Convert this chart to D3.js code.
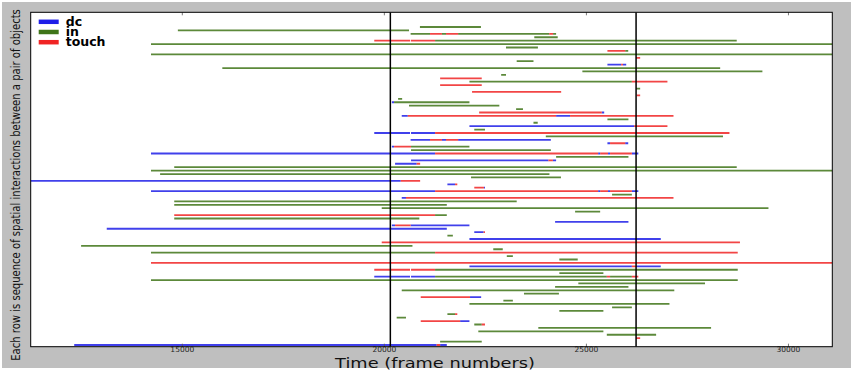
<!DOCTYPE html>
<html>
<head>
<meta charset="utf-8">
<script src="https://cdn.jsdelivr.net/npm/d3@7"></script>
<style>
  body { margin: 0; background: #fff; }
  text { font-family: "DejaVu Sans", sans-serif; }
</style>
</head>
<body>
<svg width="856" height="374"></svg>
<script>
// segments per interaction type: [row, start frame, end frame]
var dcSegs = [
  [82, 25520, 25860], [82, 25905, 25985],
  [71, 20185, 20240],
  [68, 25380, 25440],
  [67, 20430, 20580], [67, 24250, 24595],
  [64, 22105, 26180],
  [62, 19750, 20635], [62, 20660, 21255],
  [60, 20650, 21130], [60, 21425, 21525], [60, 21825, 24120],
  [59, 25520, 25585], [59, 25960, 26035],
  [58, 20185, 20240],
  [56, 14225, 21255], [56, 25290, 25340], [56, 25535, 25585], [56, 26125, 26285],
  [54, 20660, 24060], [54, 24170, 24250],
  [53, 20265, 20800],
  [48, 11248, 20405],
  [47, 21560, 21750],
  [46, 22465, 22490],
  [45, 14225, 21255], [45, 25290, 25340], [45, 25535, 25585], [45, 26125, 26285],
  [43, 20430, 20535],
  [36, 24225, 26040],
  [35, 20185, 20265], [35, 20650, 22105],
  [34, 13130, 21545],
  [33, 22225, 22455],
  [31, 22105, 26840],
  [23, 22105, 26125], [23, 26230, 26840],
  [20, 19750, 20635], [20, 20660, 21255],
  [14, 22120, 22395],
  [7, 21875, 22105],
  [0, 12325, 21295], [0, 21380, 21545]
];

var inSegs = [
  [93, 20880, 22390],
  [92, 14890, 20610],
  [91, 20650, 21130], [91, 21425, 21525], [91, 21825, 24080], [91, 24175, 24250],
  [90, 23710, 24290],
  [89, 21255, 28720],
  [88, 14225, 31085],
  [87, 23010, 23800],
  [86, 25960, 26035],
  [85, 14225, 31085],
  [83, 23275, 23690],
  [81, 15990, 28310],
  [80, 24900, 29355],
  [79, 22890, 23010],
  [77, 22105, 26125],
  [75, 26230, 26330],
  [72, 20340, 20440],
  [71, 20240, 22105],
  [70, 20610, 22845],
  [69, 23260, 23430],
  [66, 25520, 26040],
  [65, 23690, 23795],
  [63, 22225, 22490],
  [61, 23995, 28380],
  [58, 20660, 22105],
  [57, 20660, 24120],
  [55, 24250, 26040],
  [52, 14800, 28720],
  [51, 14225, 31085],
  [50, 14450, 24085],
  [49, 22145, 24370],
  [44, 25635, 26125],
  [42, 14800, 23275],
  [41, 14800, 21545],
  [40, 19935, 29505],
  [39, 24720, 25340],
  [38, 21255, 21545],
  [37, 14800, 20865],
  [32, 21560, 21695],
  [29, 12495, 20695],
  [28, 22695, 22930],
  [27, 14225, 21255],
  [26, 23030, 23180],
  [25, 24330, 24785],
  [22, 21255, 28745],
  [21, 24330, 25420],
  [20, 21255, 25505], [20, 25585, 26125],
  [19, 14225, 28745],
  [18, 24800, 27935],
  [17, 24225, 26040],
  [16, 20430, 27175],
  [15, 23455, 24320],
  [13, 22945, 23180],
  [12, 22105, 27055],
  [11, 25635, 26125],
  [10, 24330, 25420],
  [9, 21560, 21750],
  [8, 20305, 20535],
  [6, 22225, 22410],
  [5, 23810, 28085],
  [4, 22325, 25420],
  [3, 25505, 26725],
  [1, 21380, 22410]
];

var touchSegs = [
  [91, 21130, 21425], [91, 21525, 21825], [91, 24080, 24175],
  [89, 19750, 20635], [89, 20655, 21255],
  [86, 25520, 25960],
  [84, 26230, 26330],
  [82, 25860, 25905],
  [78, 21380, 22410],
  [77, 26125, 27005],
  [76, 21380, 22410],
  [74, 22170, 24375],
  [73, 26245, 26330],
  [68, 22345, 25380],
  [67, 20580, 24250], [67, 24595, 27155],
  [64, 26180, 27005],
  [62, 21255, 28540],
  [60, 21130, 21425], [60, 21525, 21825],
  [59, 25585, 25960],
  [58, 20240, 20660],
  [56, 21255, 25290], [56, 25340, 25535], [56, 25585, 26125],
  [54, 24060, 24170],
  [53, 20800, 20885],
  [48, 20405, 20885],
  [47, 21750, 21805],
  [46, 22225, 22465],
  [45, 21255, 25290], [45, 25340, 25535], [45, 25585, 26125],
  [43, 20535, 27155],
  [38, 14800, 21255],
  [35, 20265, 20650],
  [33, 22455, 22490],
  [30, 19935, 28800],
  [27, 21255, 28745],
  [24, 14225, 31085],
  [23, 26125, 26230],
  [22, 19750, 20635], [22, 20660, 21255],
  [20, 25505, 25585], [20, 26125, 26285],
  [14, 20900, 22120],
  [9, 21750, 21805],
  [7, 20900, 21875],
  [6, 22410, 22490],
  [2, 26230, 26330],
  [0, 21295, 21380]
];

var eventFrames = [20148, 26229];
var xTicks = [15000, 20000, 25000, 30000];
var kinds = ["dc", "in", "touch"];
var kindColors = ["#1e1ee8", "#3f7418", "#f02424"];

var svg = d3.select("svg"),
    margin = {top: 12.3, right: 23.7, bottom: 27.3, left: 30.7},
    width = 856 - margin.left - margin.right,
    height = 374 - margin.top - margin.bottom;

// gray figure background
svg.append("rect")
    .attr("x", 2).attr("y", 2)
    .attr("width", 849).attr("height", 366)
    .attr("fill", "#bfbfbf");

var g = svg.append("g").attr("transform", "translate(" + margin.left + "," + margin.top + ")");

var x = d3.scaleLinear().domain([11248, 31085]).range([0, width]);
var y = d3.scaleLinear().domain([-0.5, 97.3]).range([height, 0]);
var color = d3.scaleOrdinal().domain(kinds).range(kindColors);

g.append("rect")
    .attr("width", width).attr("height", height)
    .attr("fill", "#fff");

g.append("clipPath").attr("id", "plot-clip")
  .append("rect").attr("width", width).attr("height", height);

var plot = g.append("g").attr("clip-path", "url(#plot-clip)");

// one group of horizontal segments per type
[dcSegs, inSegs, touchSegs].forEach(function(segs, i) {
  plot.append("g")
      .attr("stroke", color(kinds[i]))
      .attr("stroke-width", 1.8)
      .attr("stroke-opacity", 0.85)
    .selectAll("line")
    .data(segs)
    .enter().append("line")
      .attr("x1", function(d) { return x(d[1]); })
      .attr("x2", function(d) { return x(d[2]); })
      .attr("y1", function(d) { return y(d[0]); })
      .attr("y2", function(d) { return y(d[0]); });
});

// event markers
plot.selectAll(".event")
  .data(eventFrames)
  .enter().append("line")
    .attr("class", "event")
    .attr("x1", function(d) { return x(d); })
    .attr("x2", function(d) { return x(d); })
    .attr("y1", 0).attr("y2", height)
    .attr("stroke", "#000")
    .attr("stroke-width", 1.5);

// ticks inside top and bottom
g.selectAll(".tick-top")
  .data(xTicks)
  .enter().append("line")
    .attr("x1", function(d) { return x(d); })
    .attr("x2", function(d) { return x(d); })
    .attr("y1", 0).attr("y2", 3)
    .attr("stroke", "#555").attr("stroke-width", 0.8);

g.selectAll(".tick-bottom")
  .data(xTicks)
  .enter().append("line")
    .attr("x1", function(d) { return x(d); })
    .attr("x2", function(d) { return x(d); })
    .attr("y1", height).attr("y2", height - 3)
    .attr("stroke", "#555").attr("stroke-width", 0.8);

g.selectAll(".tick-label")
  .data(xTicks)
  .enter().append("text")
    .attr("x", function(d) { return x(d); })
    .attr("y", height + 5.8)
    .attr("text-anchor", "middle")
    .attr("font-size", 7.5)
    .attr("fill", "#222")
    .text(function(d) { return d; });

// frame
g.append("rect")
    .attr("width", width).attr("height", height)
    .attr("fill", "none")
    .attr("stroke", "#000")
    .attr("stroke-width", 1);

// squeeze or stretch a text so its length fits the wanted size
function fitText(sel, target) {
  var len = sel.node().getComputedTextLength();
  return len > 0 ? target / len : 1;
}

// axis titles
var xTitle = svg.append("g").attr("transform", "translate(435,367.5)");
var xText = xTitle.append("text")
    .attr("text-anchor", "middle")
    .attr("font-size", 13.5)
    .attr("fill", "#111")
    .text("Time (frame numbers)");
xText.attr("transform", "scale(" + fitText(xText, 200) + ",1)");

var yTitle = svg.append("g").attr("transform", "translate(20,185) rotate(-90)");
var yText = yTitle.append("text")
    .attr("text-anchor", "middle")
    .attr("font-family", "Open Sans")
    .attr("font-size", 13)
    .attr("fill", "#111")
    .text("Each row is sequence of spatial interactions between a pair of objects");
yText.attr("transform", "scale(" + fitText(yText, 352) + ",1)");

// legend
var legend = g.append("g")
  .selectAll("g")
  .data(kinds)
  .enter().append("g")
    .attr("transform", function(d, i) { return "translate(8," + (9.5 + i * 10.2) + ")"; });

legend.append("line")
    .attr("x1", 0).attr("x2", 20)
    .attr("stroke", function(d) { return color(d); })
    .attr("stroke-width", 4.5);

legend.append("text")
    .attr("x", 27)
    .attr("y", 4)
    .attr("font-size", 12.5)
    .attr("font-weight", "bold")
    .attr("fill", "#000")
    .text(function(d) { return d; });
</script>
</body>
</html>
